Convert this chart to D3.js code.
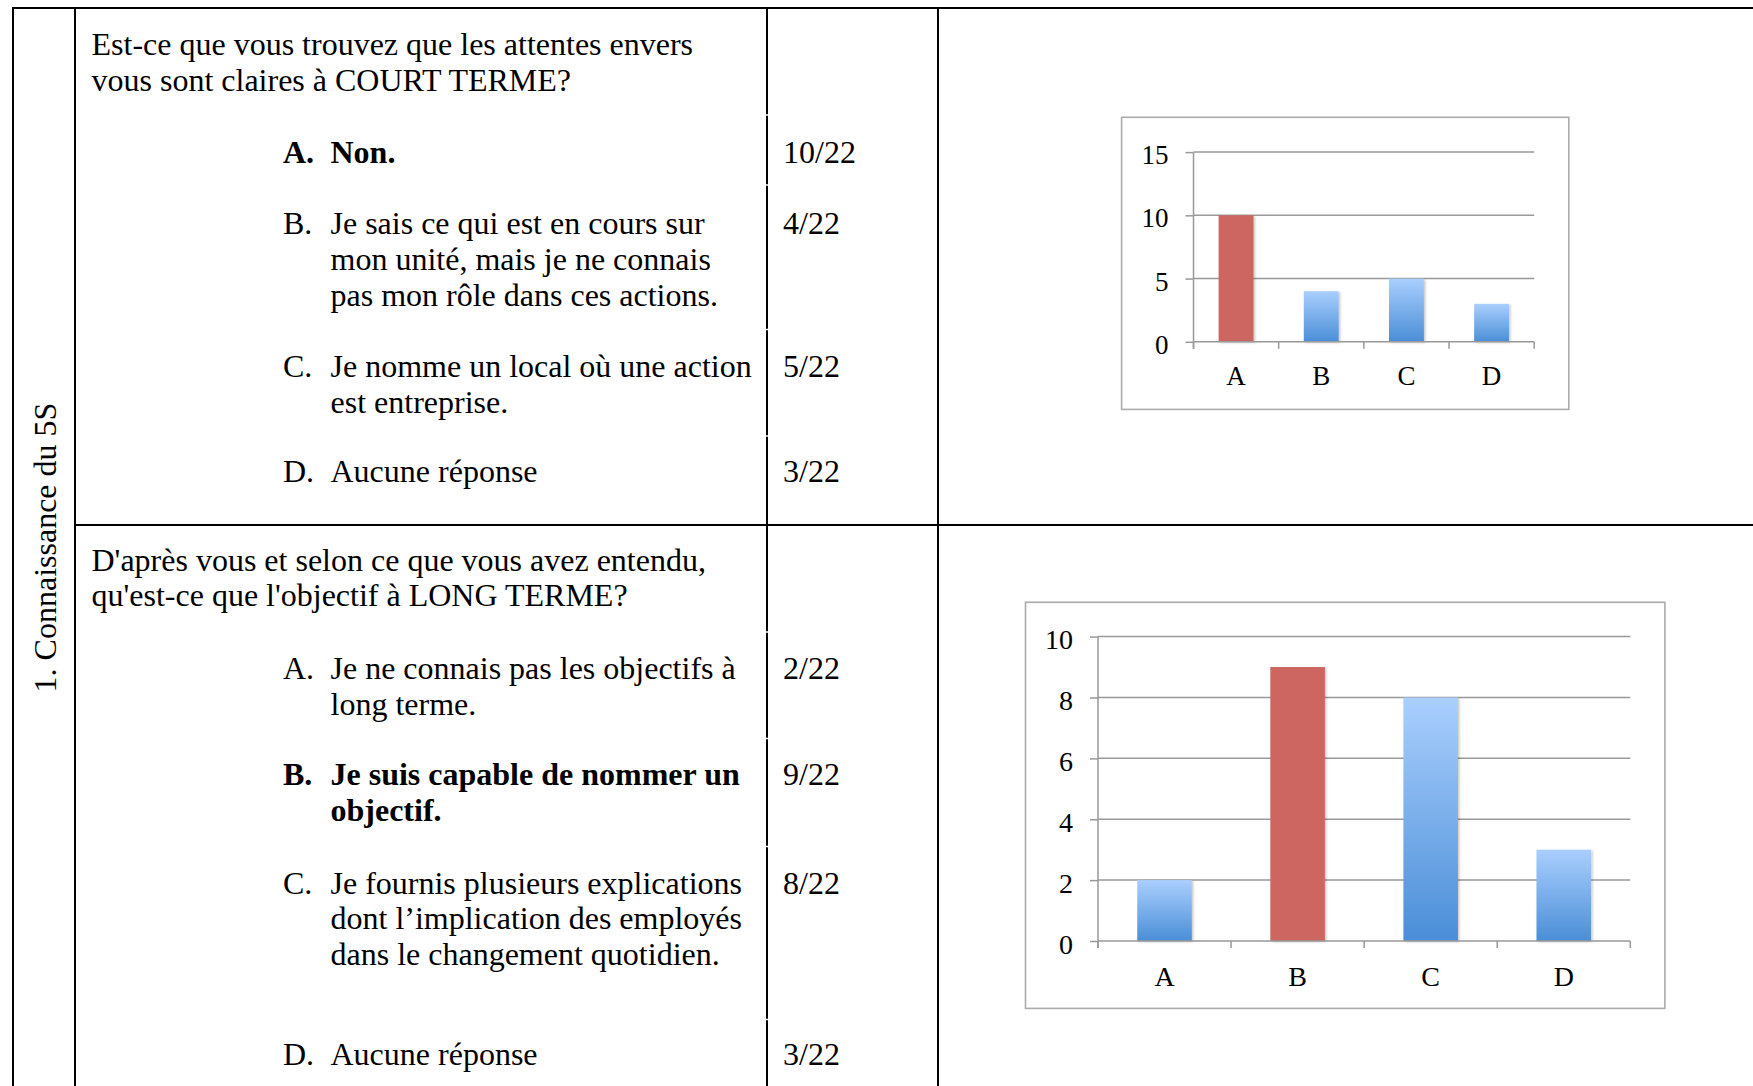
<!DOCTYPE html>
<html>
<head>
<meta charset="utf-8">
<script src="https://cdn.jsdelivr.net/npm/d3@7"></script>
<style>
  html, body { margin: 0; padding: 0; background: #ffffff; }
  svg { display: block; }
</style>
</head>
<body>
<svg id="page" width="1753" height="1086"></svg>
<script>
// ---- Survey data -------------------------------------------------------
const categories = ["A", "B", "C", "D"];
const respondents = 22;

const courtTermeValues = [10, 4, 5, 3];
const longTermeValues = [2, 9, 8, 3];

const courtTermeAnswer = "A";
const longTermeAnswer = "B";

const courtTermeTicks = [0, 5, 10, 15];
const longTermeTicks = [0, 2, 4, 6, 8, 10];

const sectionLabel = "1. Connaissance du 5S";

const courtTermeQuestion = [
  "Est-ce que vous trouvez que les attentes envers",
  "vous sont claires à COURT TERME?"
];
const courtTermeOptions = [
  ["Non."],
  ["Je sais ce qui est en cours sur", "mon unité, mais je ne connais", "pas mon rôle dans ces actions."],
  ["Je nomme un local où une action", "est entreprise."],
  ["Aucune réponse"]
];

const longTermeQuestion = [
  "D'après vous et selon ce que vous avez entendu,",
  "qu'est-ce que l'objectif à LONG TERME?"
];
const longTermeOptions = [
  ["Je ne connais pas les objectifs à", "long terme."],
  ["Je suis capable de nommer un", "objectif."],
  ["Je fournis plusieurs explications", "dont l’implication des employés", "dans le changement quotidien."],
  ["Aucune réponse"]
];

// ---- Page layout -------------------------------------------------------
const W = 1753, H = 1086;
const FONT = "'Liberation Serif', 'Times New Roman', serif";
const TEXT_SIZE = 32;
const LINE_H = 35.8;

const colOuter = 13, colQuestion = 75, colCount = 767, colChart = 938;
const rowTop = 8, rowSplit = 525;
const countBreaks = [115, 185, 329.5, 436, 632, 738.5, 846.5, 1019.5];

const svg = d3.select("#page");

const defs = svg.append("defs");
const grad = defs.append("linearGradient")
  .attr("id", "barBlue").attr("x1", 0).attr("y1", 0).attr("x2", 0).attr("y2", 1);
grad.append("stop").attr("offset", "0%").attr("stop-color", "#aacffe");
grad.append("stop").attr("offset", "100%").attr("stop-color", "#4a8ed7");

const shadow = defs.append("filter").attr("id", "barShadow")
  .attr("x", "-20%").attr("y", "-5%").attr("width", "150%").attr("height", "115%");
shadow.append("feDropShadow")
  .attr("dx", 1.5).attr("dy", 1).attr("stdDeviation", 1.3)
  .attr("flood-color", "#000").attr("flood-opacity", 0.22);

// ---- Table rules -------------------------------------------------------
const rules = svg.append("g").attr("stroke", "#000").attr("stroke-width", 2);
rules.append("line").attr("x1", colOuter - 1).attr("x2", W).attr("y1", rowTop).attr("y2", rowTop);
rules.append("line").attr("x1", colQuestion).attr("x2", W).attr("y1", rowSplit).attr("y2", rowSplit);
[colOuter, colQuestion, colChart].forEach(x =>
  rules.append("line").attr("x1", x).attr("x2", x).attr("y1", rowTop).attr("y2", H));

// the count column rule is broken slightly at each inner row boundary
const segs = [];
let start = rowTop;
countBreaks.forEach(b => { segs.push([start, b - 0.8]); start = b + 0.8; });
segs.push([start, H]);
segs.forEach(([a, b]) =>
  rules.append("line").attr("x1", colCount).attr("x2", colCount).attr("y1", a).attr("y2", b));

// ---- Text column -------------------------------------------------------
const txt = svg.append("g")
  .attr("font-family", FONT).attr("font-size", TEXT_SIZE).attr("fill", "#000");

txt.append("text")
  .attr("transform", `translate(56,${(407 + 688) / 2}) rotate(-90)`)
  .attr("text-anchor", "middle")
  .text(sectionLabel);

function drawQuestion(question, qBase, options, optBases, values, answer) {
  question.forEach((line, i) =>
    txt.append("text").attr("x", 91.5).attr("y", qBase + i * LINE_H).text(line));
  options.forEach((lines, k) => {
    const bold = categories[k] === answer;
    const g = txt.append("g").attr("font-weight", bold ? "bold" : "normal");
    g.append("text").attr("x", 283).attr("y", optBases[k]).text(categories[k] + ".");
    lines.forEach((line, i) =>
      g.append("text").attr("x", 330.5).attr("y", optBases[k] + i * LINE_H).text(line));
    txt.append("text").attr("x", 783).attr("y", optBases[k])
      .text(`${values[k]}/${respondents}`);
  });
}

drawQuestion(courtTermeQuestion, 55.4, courtTermeOptions, [162.5, 234, 377, 482],
  courtTermeValues, courtTermeAnswer);
drawQuestion(longTermeQuestion, 570.5, longTermeOptions, [679, 785, 893.6, 1065],
  longTermeValues, longTermeAnswer);

// ---- Bar charts --------------------------------------------------------
function drawChart(cfg) {
  const g = svg.append("g");
  const { box, plot, values, ticks, answer, fontSize, labelDrop } = cfg;

  g.append("rect")
    .attr("x", box[0]).attr("y", box[1])
    .attr("width", box[2] - box[0]).attr("height", box[3] - box[1])
    .attr("fill", "#fff").attr("stroke", "#ababab").attr("stroke-width", 1.6);

  const x = d3.scaleBand().domain(categories)
    .range([plot[0], plot[2]]).paddingInner(0.59).paddingOuter(0.295);
  const y = d3.scaleLinear().domain([0, d3.max(ticks)]).range([plot[3], plot[1]]);

  const gridColor = "#999999";

  // horizontal grid lines (behind the bars)
  g.append("g").selectAll("line").data(ticks.filter(t => t > 0)).join("line")
    .attr("x1", plot[0]).attr("x2", plot[2])
    .attr("y1", d => y(d)).attr("y2", d => y(d))
    .attr("stroke", gridColor).attr("stroke-width", 1.5);

  // bars
  g.append("g").selectAll("rect").data(categories.map((c, i) => ({ c, v: values[i] }))).join("rect")
    .attr("x", d => x(d.c)).attr("width", x.bandwidth())
    .attr("y", d => y(d.v)).attr("height", d => y(0) - y(d.v))
    .attr("fill", d => d.c === answer ? "#cd6660" : "url(#barBlue)")
    .attr("filter", "url(#barShadow)");

  // value axis: ticks and labels
  const yAxis = g.append("g").attr("transform", `translate(${plot[0]},0)`)
    .call(d3.axisLeft(y).tickValues(ticks).tickSize(8).tickPadding(17));
  yAxis.select(".domain").remove();
  yAxis.selectAll(".tick line").attr("stroke", gridColor).attr("stroke-width", 1.5);
  yAxis.selectAll(".tick text")
    .attr("font-family", FONT).attr("font-size", fontSize).attr("fill", "#000")
    .attr("dy", "0.43em");
  g.append("line").attr("x1", plot[0]).attr("x2", plot[0])
    .attr("y1", y(d3.max(ticks))).attr("y2", plot[3] + 7)
    .attr("stroke", gridColor).attr("stroke-width", 1.5);

  // category axis
  const xAxis = g.append("g").attr("transform", `translate(0,${plot[3]})`)
    .call(d3.axisBottom(x).tickSize(0));
  xAxis.select(".domain").remove();
  xAxis.selectAll(".tick text")
    .attr("font-family", FONT).attr("font-size", fontSize).attr("fill", "#000")
    .attr("y", labelDrop).attr("dy", null);
  g.append("line").attr("x1", plot[0]).attr("x2", plot[2])
    .attr("y1", plot[3]).attr("y2", plot[3])
    .attr("stroke", gridColor).attr("stroke-width", 1.5);
  const bounds = d3.range(categories.length + 1).map(i => plot[0] + i * x.step());
  g.append("g").selectAll("line").data(bounds).join("line")
    .attr("x1", d => d).attr("x2", d => d)
    .attr("y1", plot[3]).attr("y2", plot[3] + 7)
    .attr("stroke", gridColor).attr("stroke-width", 1.5);
}

drawChart({
  box: [1121.6, 117.3, 1568.8, 409.4],
  plot: [1193.5, 152.1, 1534.2, 341.8],
  values: courtTermeValues, ticks: courtTermeTicks, answer: courtTermeAnswer,
  fontSize: 27, labelDrop: 43.6
});

drawChart({
  box: [1025.5, 602.3, 1664.9, 1008.4],
  plot: [1098, 636.6, 1630.3, 941],
  values: longTermeValues, ticks: longTermeTicks, answer: longTermeAnswer,
  fontSize: 28, labelDrop: 44.7
});
</script>
</body>
</html>
